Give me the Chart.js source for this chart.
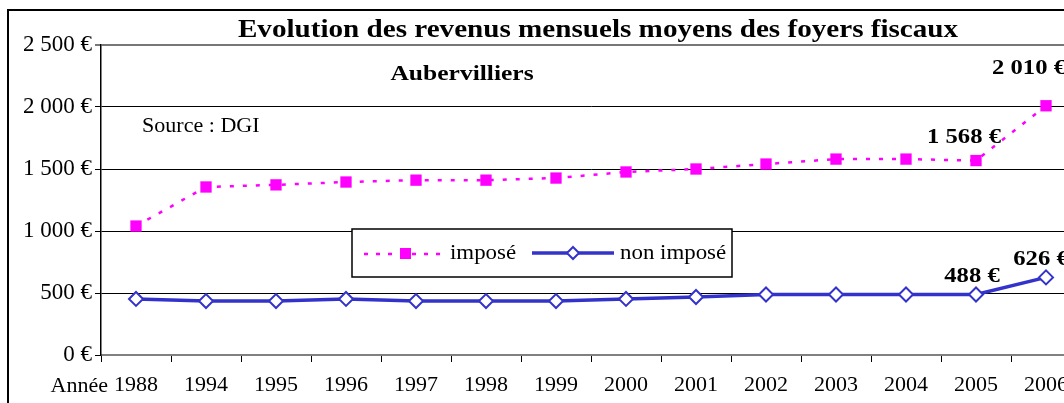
<!DOCTYPE html>
<html>
<head>
<meta charset="utf-8">
<script src="https://cdn.jsdelivr.net/npm/chart.js@4/dist/chart.umd.min.js"></script>
<style>
  html, body { margin: 0; padding: 0; background: #fff; overflow: hidden; }
  #wrap { width: 1100px; height: 403px; }
</style>
</head>
<body>
<div id="wrap"><canvas id="myChart"></canvas></div>
<script>
const years = ['1988', '1994', '1995', '1996', '1997', '1998', '1999', '2000', '2001', '2002', '2003', '2004', '2005', '2006'];
const impose = [1040, 1355, 1372, 1395, 1410, 1410, 1427, 1476, 1500, 1540, 1580, 1580, 1568, 2010];
const nonImpose = [452, 435, 435, 452, 435, 435, 435, 452, 468, 488, 488, 488, 488, 626];
const yTicks = [0, 500, 1000, 1500, 2000, 2500];

// which points get a value label, per dataset
const labelled = [[12, 13], [12, 13]];

const serif = '"Liberation Serif", "Times New Roman", serif';

function euro(v) {
  return String(v).replace(/\B(?=(\d{3})+(?!\d))/g, ' ') + ' €';
}

// text in the original is a bit wider than Liberation Serif, so stretch it
function wideText(ctx, text, x, y, font, stretch, align) {
  ctx.save();
  ctx.font = font;
  ctx.textAlign = align || 'center';
  ctx.translate(x, y);
  ctx.scale(stretch, 1);
  ctx.fillText(text, 0, 0);
  ctx.restore();
}

const decor = {
  id: 'decor',
  beforeDraw(chart) {
    const ctx = chart.ctx;
    ctx.save();
    ctx.strokeStyle = '#000';
    ctx.lineWidth = 2;
    ctx.beginPath();
    ctx.moveTo(8, 403);
    ctx.lineTo(8, 10);
    ctx.lineTo(chart.width, 10);
    ctx.stroke();
    ctx.restore();
  },
  afterDraw(chart) {
    const ctx = chart.ctx;
    ctx.save();
    ctx.fillStyle = '#000';
    ctx.textBaseline = 'middle';

    wideText(ctx, 'Evolution des revenus mensuels moyens des foyers fiscaux', 598, 30, 'bold 26px ' + serif, 1.12);
    wideText(ctx, 'Aubervilliers', 462, 74, 'bold 22px ' + serif, 1.16);
    wideText(ctx, 'Source : DGI', 142, 126, '21px ' + serif, 1.05, 'left');
    wideText(ctx, 'Année', 108, 386, '22px ' + serif, 1.0, 'right');

    // value labels
    const shifts = [[[-12, -23], [-17, -37]], [[-4, -18], [-5, -18]]];
    labelled.forEach((idxs, d) => {
      const meta = chart.getDatasetMeta(d);
      idxs.forEach((i, k) => {
        const p = meta.data[i];
        const s = shifts[d][k];
        wideText(ctx, euro(chart.data.datasets[d].data[i]), p.x + s[0], p.y + s[1], 'bold 22px ' + serif, 1.12);
      });
    });

    // legend box
    const lx = 352, ly = 229, lw = 380, lh = 48;
    ctx.fillStyle = '#fff';
    ctx.fillRect(lx, ly, lw, lh);
    ctx.strokeStyle = '#000';
    ctx.lineWidth = 1.5;
    ctx.strokeRect(lx, ly, lw, lh);
    const cy = ly + lh / 2;

    ctx.strokeStyle = '#FF00FF';
    ctx.lineWidth = 2.5;
    ctx.setLineDash([4, 8]);
    ctx.beginPath();
    ctx.moveTo(364, cy + 1);
    ctx.lineTo(440, cy + 1);
    ctx.stroke();
    ctx.setLineDash([]);
    ctx.fillStyle = '#FF00FF';
    ctx.fillRect(400, cy - 5, 11, 11);

    ctx.strokeStyle = '#3333CC';
    ctx.lineWidth = 3.5;
    ctx.beginPath();
    ctx.moveTo(532, cy);
    ctx.lineTo(614, cy);
    ctx.stroke();
    ctx.fillStyle = '#fff';
    ctx.lineWidth = 2;
    ctx.beginPath();
    ctx.moveTo(573, cy - 6);
    ctx.lineTo(579, cy);
    ctx.lineTo(573, cy + 6);
    ctx.lineTo(567, cy);
    ctx.closePath();
    ctx.fill();
    ctx.stroke();

    ctx.fillStyle = '#000';
    wideText(ctx, 'imposé', 450, cy, '22px ' + serif, 1.04, 'left');
    wideText(ctx, 'non imposé', 620, cy, '22px ' + serif, 1.04, 'left');
    ctx.restore();
  }
};

new Chart(
  document.getElementById('myChart'),
  {
    type: 'line',
    data: {
      labels: years,
      datasets: [
        {
          label: 'imposé',
          data: impose,
          borderColor: '#FF00FF',
          borderWidth: 2.5,
          borderDash: [4, 9],
          pointStyle: 'rect',
          pointRadius: 8,
          pointBackgroundColor: '#FF00FF',
          pointBorderColor: '#FF00FF',
          pointBorderWidth: 0,
          tension: 0
        },
        {
          label: 'non imposé',
          data: nonImpose,
          borderColor: '#3333CC',
          borderWidth: 3.5,
          pointStyle: 'rectRot',
          pointRadius: 7,
          pointBackgroundColor: '#fff',
          pointBorderColor: '#3333CC',
          pointBorderWidth: 2,
          tension: 0
        }
      ]
    },
    options: {
      responsive: true,
      maintainAspectRatio: false,
      animation: false,
      layout: { padding: { top: 45, right: 19, bottom: 0, left: 0 } },
      plugins: {
        legend: { display: false },
        title: { display: false },
        tooltip: { enabled: false }
      },
      scales: {
        x: {
          offset: true,
          afterFit(scale) { scale.height = 48; },
          grid: {
            offset: true,
            drawOnChartArea: false,
            color: '#000',
            tickLength: 7
          },
          border: { color: '#808080', width: 2 },
          ticks: {
            color: '#000',
            font: { family: serif, size: 22 },
            padding: 10,
            maxRotation: 0,
            autoSkip: false
          }
        },
        y: {
          min: 0,
          max: 2500,
          afterFit(scale) { scale.width = 101; },
          afterBuildTicks(scale) {
            scale.ticks = yTicks.map((v) => ({ value: v }));
          },
          grid: {
            color: (c) => (c.tick && c.tick.value === 2500 ? '#777' : '#000'),
            lineWidth: (c) => (c.tick && c.tick.value === 2500 ? 2 : 1),
            tickLength: 6
          },
          border: { color: '#000', width: 1.5 },
          ticks: {
            color: '#000',
            font: { family: serif, size: 23 },
            padding: 3,
            callback: (v) => euro(v)
          }
        }
      }
    },
    plugins: [decor]
  }
)
</script>
</body>
</html>
